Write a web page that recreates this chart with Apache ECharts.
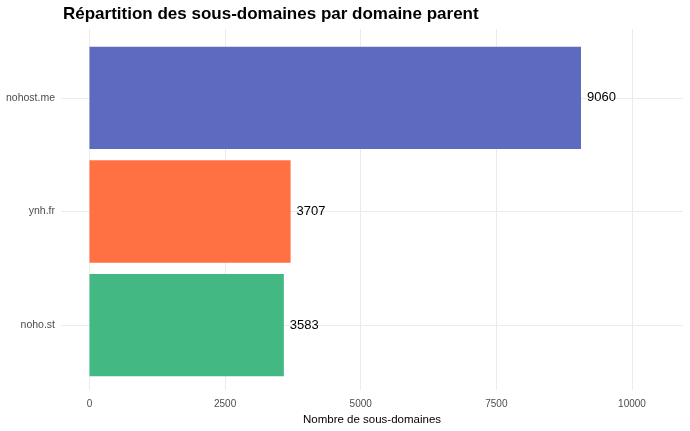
<!DOCTYPE html>
<html><head><meta charset="utf-8">
<script src="https://cdn.jsdelivr.net/npm/echarts@6/dist/echarts.min.js"></script>
<style>html,body{margin:0;padding:0;background:#fff}#c{width:690px;height:431px}</style>
</head><body><div id="c"></div>
<script>
const categories = ['nohost.me', 'ynh.fr', 'noho.st'];
const values = [9060, 3707, 3583];
const barColors = ['#5C6BC0', '#FF7043', '#43B883'];
const xTicks = [0, 2500, 5000, 7500, 10000];
const titleText = 'Répartition des sous-domaines par domaine parent';
const xTitle = 'Nombre de sous-domaines';

const XMIN = -525, XMAX = 10940;
const FONT = 'Liberation Sans';
const chart = echarts.init(document.getElementById('c'), null, {renderer: 'canvas'});
chart.setOption({
  backgroundColor: '#ffffff',
  animation: false,
  textStyle: {fontFamily: FONT},
  title: {text: titleText, left: 58, top: 1,
    textStyle: {fontFamily: FONT, fontWeight: 'bold', fontSize: 17, color: '#000'}},
  grid: [
    {left: 61, right: 7, top: 29, bottom: 38},
    {left: 61, right: 7, top: 41, height: 341}
  ],
  xAxis: [
    {gridIndex: 0, type: 'value', min: XMIN, max: XMAX,
     axisLine: {show: false},
     axisTick: {show: false, customValues: xTicks},
     axisLabel: {customValues: xTicks, color: '#4d4d4d', fontSize: 10, margin: 9, fontFamily: FONT,
                 formatter: v => String(v)},
     splitLine: {show: true, lineStyle: {color: '#ebebeb', width: 1}},
     name: xTitle, nameLocation: 'middle', nameGap: 24,
     nameTextStyle: {color: '#000', fontSize: 11.5, fontFamily: FONT}},
    {gridIndex: 1, type: 'value', min: XMIN, max: XMAX, show: false}
  ],
  yAxis: [
    {gridIndex: 0, type: 'value', min: 0, max: 1, show: false},
    {gridIndex: 1, type: 'category', data: categories, inverse: true,
     axisLine: {show: false},
     axisTick: {show: false},
     axisLabel: {color: '#4d4d4d', fontSize: 10.5, margin: 6, fontFamily: FONT},
     splitLine: {show: false}}
  ],
  series: [{
    type: 'bar', xAxisIndex: 1, yAxisIndex: 1,
    barWidth: '90%', z: 2,
    data: values.map((v, i) => ({value: v, itemStyle: {color: barColors[i]}})),
    itemStyle: {borderWidth: 0},
    label: {show: true, position: 'right', distance: 6, color: '#000', fontSize: 13, fontFamily: FONT},
    markLine: {
      silent: true, symbol: 'none', z: 1, animation: false,
      label: {show: false},
      lineStyle: {color: '#ebebeb', type: 'solid', width: 1},
      data: categories.map(c => ({yAxis: c}))
    }
  }]
});
</script></body></html>
